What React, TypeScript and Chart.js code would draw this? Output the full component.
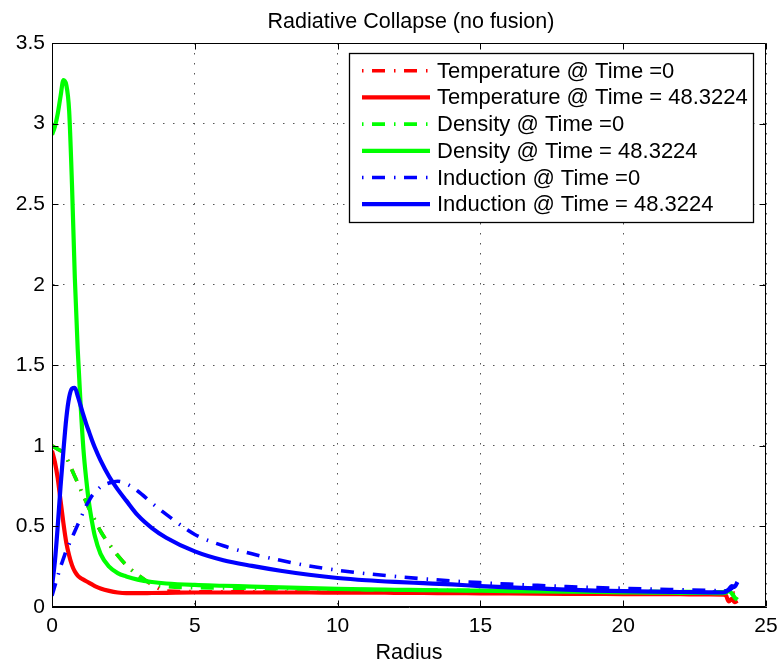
import React, { useEffect, useRef } from "react";
import { Chart, registerables } from "chart.js";

Chart.register(...registerables);

// ---------- data ----------
const radius = [
  0, 0.1, 0.2, 0.3, 0.4, 0.5, 0.6, 0.7, 0.8, 0.9, 1.0, 1.1, 1.2, 1.3, 1.4, 1.5,
  1.7, 2.0, 2.3, 2.6, 3.0, 3.5,
  4, 5, 6, 7, 8, 9, 10, 11, 12, 13, 14, 15, 16, 17, 18, 19, 20, 21, 22, 23,
  23.5, 23.6, 23.7, 23.8, 23.9, 24.0,
];

const temperatureInitial = [
  1.0, 0.99, 0.98, 0.97, 0.96, 0.93, 0.89, 0.85, 0.81, 0.77, 0.73, 0.69, 0.65, 0.61, 0.575, 0.54,
  0.47, 0.39, 0.32, 0.26, 0.2, 0.14,
  0.1, 0.095, 0.094, 0.094, 0.093, 0.093, 0.092, 0.092, 0.091, 0.091, 0.09, 0.09, 0.09, 0.089, 0.089, 0.089, 0.088, 0.088, 0.088, 0.088,
  0.088, 0.088, 0.087, 0.087, 0.086, 0.085,
];

const temperatureFinal = [
  0.97, 0.9, 0.8, 0.66, 0.52, 0.4, 0.32, 0.26, 0.22, 0.195, 0.18, 0.17, 0.16, 0.15, 0.14, 0.13,
  0.115, 0.1, 0.09, 0.086, 0.086, 0.087,
  0.088, 0.09, 0.09, 0.09, 0.09, 0.09, 0.089, 0.089, 0.088, 0.087, 0.086, 0.085, 0.084, 0.083, 0.082, 0.081, 0.08, 0.08, 0.079, 0.078,
  0.077, 0.07, 0.035, 0.05, 0.03, 0.04,
];

const densityInitial = [
  1.0, 0.99, 0.98, 0.97, 0.96, 0.93, 0.89, 0.85, 0.81, 0.77, 0.73, 0.69, 0.65, 0.61, 0.575, 0.54,
  0.47, 0.39, 0.32, 0.26, 0.2, 0.145,
  0.128, 0.12, 0.118, 0.116, 0.114, 0.112, 0.11, 0.108, 0.106, 0.105, 0.104, 0.103, 0.102, 0.101, 0.1, 0.099, 0.098, 0.097, 0.096, 0.095,
  0.095, 0.1, 0.105, 0.09, 0.07, 0.055,
];

const densityFinal = [
  2.93, 2.98, 3.06, 3.17, 3.27, 3.24, 3.08, 2.62, 2.04, 1.6, 1.26, 0.98, 0.79, 0.64, 0.53, 0.44,
  0.33, 0.25, 0.21, 0.19, 0.17, 0.155,
  0.146, 0.137, 0.132, 0.127, 0.122, 0.117, 0.112, 0.109, 0.107, 0.105, 0.103, 0.101, 0.099, 0.097, 0.095, 0.093, 0.091, 0.089, 0.088, 0.087,
  0.086, 0.09, 0.1, 0.085, 0.06, 0.045,
];

const inductionInitial = [
  0.07, 0.13, 0.19, 0.25, 0.3, 0.35, 0.39, 0.43, 0.47, 0.51, 0.55, 0.59, 0.63, 0.66, 0.69, 0.71,
  0.745, 0.77, 0.78, 0.765, 0.72, 0.645,
  0.575, 0.45, 0.38, 0.33, 0.29, 0.255, 0.228, 0.207, 0.19, 0.175, 0.162, 0.151, 0.142, 0.134, 0.127, 0.121, 0.116, 0.111, 0.107, 0.103,
  0.1, 0.1, 0.105, 0.115, 0.13, 0.145,
];

const inductionFinal = [
  0.13, 0.28, 0.5, 0.75, 0.97, 1.17, 1.3, 1.355, 1.36, 1.31, 1.25, 1.19, 1.135, 1.085, 1.035, 0.99,
  0.91, 0.81, 0.73, 0.66, 0.57, 0.49,
  0.43, 0.345, 0.29, 0.255, 0.225, 0.2, 0.18, 0.166, 0.156, 0.148, 0.14, 0.13, 0.122, 0.115, 0.108, 0.102, 0.098, 0.095, 0.093, 0.091,
  0.09, 0.095, 0.11, 0.13, 0.125, 0.155,
];

const seriesLabels = [
  "Temperature @ Time =0",
  "Temperature @ Time = 48.3224",
  "Density @ Time =0",
  "Density @ Time = 48.3224",
  "Induction @ Time =0",
  "Induction @ Time = 48.3224",
];

const xTickValues = [0, 5, 10, 15, 20, 25];
const yTickValues = [0, 0.5, 1, 1.5, 2, 2.5, 3, 3.5];
const chartTitle = "Radiative Collapse (no fusion)";
const xAxisTitle = "Radius";

// ---------- styles ----------
const FONT = '"Liberation Sans", Arial, Helvetica, sans-serif';
const DASH = [13, 9, 1.5, 8.5];
const LEGEND_DASH = [1.5, 8.5, 13, 9];
const SOLID_W = 4.2;
const DASH_W = 3.6;

const seriesValues = [
  temperatureInitial,
  temperatureFinal,
  densityInitial,
  densityFinal,
  inductionInitial,
  inductionFinal,
];
const seriesColors = ["#ff0000", "#ff0000", "#00ff00", "#00ff00", "#0000ff", "#0000ff"];
const seriesDashed = [true, false, true, false, true, false];

const framePlugin = {
  id: "matlabFrame",
  afterDraw(chart: any) {
    const { ctx, chartArea: a, scales } = chart;
    const xs = scales.x;
    const ys = scales.y;
    ctx.save();
    // box
    ctx.strokeStyle = "#000";
    ctx.lineWidth = 1;
    ctx.setLineDash([]);
    const L = Math.round(a.left) + 0.5;
    const T = Math.round(a.top) + 0.5;
    const R = Math.round(a.right) - 0.5;
    const B = Math.round(a.bottom) - 0.5;
    ctx.beginPath();
    ctx.moveTo(L, T);
    ctx.lineTo(R, T);
    ctx.lineTo(R, B);
    ctx.lineTo(L, B);
    ctx.closePath();
    // inward ticks
    const tl = 6;
    xs.ticks.forEach((t: any) => {
      const px = Math.round(xs.getPixelForValue(t.value)) + 0.5;
      ctx.moveTo(px, B);
      ctx.lineTo(px, B - tl);
      ctx.moveTo(px, T);
      ctx.lineTo(px, T + tl);
    });
    ys.ticks.forEach((t: any) => {
      const py = Math.round(ys.getPixelForValue(t.value)) + 0.5;
      ctx.moveTo(L, py);
      ctx.lineTo(L + tl, py);
      ctx.moveTo(R, py);
      ctx.lineTo(R - tl, py);
    });
    ctx.stroke();

    // title
    ctx.fillStyle = "#000";
    ctx.font = `21.5px ${FONT}`;
    ctx.textAlign = "center";
    ctx.textBaseline = "alphabetic";
    ctx.fillText(chartTitle, (a.left + a.right) / 2 + 2, 28);

    // legend
    const bw = 404;
    const bh = 169;
    const bx = Math.round(a.right) - 13 - bw;
    const by = Math.round(a.top) + 10;
    ctx.fillStyle = "#fff";
    ctx.fillRect(bx, by, bw, bh);
    ctx.strokeStyle = "#000";
    ctx.lineWidth = 1.3;
    ctx.strokeRect(bx + 0.5, by + 0.5, bw, bh);
    ctx.font = `22px ${FONT}`;
    ctx.textAlign = "left";
    ctx.textBaseline = "middle";
    seriesLabels.forEach((label, i) => {
      const ry = by + 17.7 + i * 26.7;
      ctx.save();
      ctx.strokeStyle = seriesColors[i];
      ctx.lineWidth = seriesDashed[i] ? DASH_W : SOLID_W;
      ctx.lineCap = "butt";
      ctx.setLineDash(seriesDashed[i] ? LEGEND_DASH : []);
      ctx.beginPath();
      ctx.moveTo(bx + 13, ry);
      ctx.lineTo(bx + 81, ry);
      ctx.stroke();
      ctx.restore();
      ctx.fillStyle = "#000";
      ctx.fillText(label, bx + 88, ry + 1);
    });
    ctx.restore();
  },
};

export default function App() {
  const canvasRef = useRef<HTMLCanvasElement | null>(null);

  useEffect(() => {
    const canvas = canvasRef.current;
    if (!canvas) return;
    Chart.defaults.font.family = FONT;
    Chart.defaults.color = "#000";

    const datasets = seriesLabels.map((label, i) => ({
      label,
      data: radius.map((r, j) => ({ x: r, y: seriesValues[i][j] })),
      borderColor: seriesColors[i],
      backgroundColor: seriesColors[i],
      borderWidth: seriesDashed[i] ? DASH_W : SOLID_W,
      borderDash: seriesDashed[i] ? DASH : [],
      borderCapStyle: "butt" as const,
      borderJoinStyle: "round" as const,
      pointRadius: 0,
      cubicInterpolationMode: "monotone" as const,
      fill: false,
      order: seriesLabels.length - i,
    }));

    const chart = new Chart(canvas, {
      type: "line",
      data: { datasets },
      options: {
        animation: false,
        responsive: false,
        devicePixelRatio: 1,
        layout: { padding: { top: 43, right: 18, left: 0, bottom: 0 } },
        plugins: {
          legend: { display: false },
          title: { display: false },
          tooltip: { enabled: false },
        },
        scales: {
          x: {
            type: "linear",
            min: xTickValues[0],
            max: xTickValues[xTickValues.length - 1],
            afterBuildTicks: (s: any) => {
              s.ticks = xTickValues.map((v) => ({ value: v }));
            },
            afterFit: (s: any) => {
              s.height = 60;
              s.paddingLeft = 0;
              s.paddingRight = 0;
            },
            ticks: {
              color: "#000",
              font: { size: 21 },
              padding: 7,
              maxRotation: 0,
              callback: (v: any) => `${v}`,
            },
            grid: { color: "#555", lineWidth: 1, drawTicks: false },
            border: { display: true, color: "#000", width: 1, dash: [1.5, 8.5] },
            title: {
              display: true,
              text: xAxisTitle,
              color: "#000",
              font: { size: 21.5 },
              padding: { top: 0, bottom: 1 },
            },
          },
          y: {
            type: "linear",
            min: yTickValues[0],
            max: yTickValues[yTickValues.length - 1],
            afterBuildTicks: (s: any) => {
              s.ticks = yTickValues.map((v) => ({ value: v }));
            },
            afterFit: (s: any) => {
              s.width = 52;
              s.paddingTop = 0;
              s.paddingBottom = 0;
            },
            ticks: {
              color: "#000",
              font: { size: 21 },
              padding: 7,
              callback: (v: any) => `${v}`,
            },
            grid: { color: "#555", lineWidth: 1, drawTicks: false },
            border: { display: true, color: "#000", width: 1, dash: [1.5, 8.5] },
          },
        },
      },
      plugins: [framePlugin],
    });

    return () => {
      chart.destroy();
    };
  }, []);

  return (
    <div style={{ position: "absolute", left: 0, top: 0, width: 784, height: 667, background: "#fff" }}>
      <canvas ref={canvasRef} width={784} height={667} style={{ display: "block" }} />
    </div>
  );
}
